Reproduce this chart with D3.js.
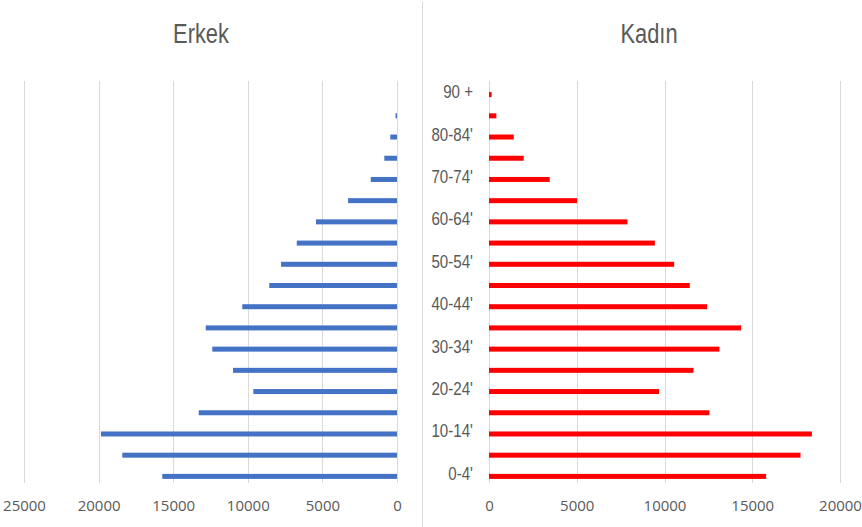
<!DOCTYPE html>
<html>
<head>
<meta charset="utf-8">
<script src="https://cdn.jsdelivr.net/npm/d3@7"></script>
<style>
  body { margin: 0; background: #fff; }
  text { fill: #595959; }
</style>
</head>
<body>
<div id="chart"></div>
<script>
// Age groups, youngest first
const ageGroups = ["0-4'", "5-9'", "10-14'", "15-19'", "20-24'", "25-29'", "30-34'", "35-39'",
    "40-44'", "45-49'", "50-54'", "55-59'", "60-64'", "65-69'", "70-74'", "75-79'",
    "80-84'", "85-89'", "90 +"];

// Population by sex
const erkek = [15730, 18410, 19840, 13290, 9630, 10990, 12380, 12820, 10370, 8560,
    7770, 6720, 5430, 3280, 1760, 850, 450, 100, 0];
const kadin = [15790, 17750, 18400, 12560, 9690, 11650, 13130, 14370, 12430, 11440,
    10550, 9450, 7890, 5020, 3460, 1980, 1410, 420, 150];

const erkekTicks = [25000, 20000, 15000, 10000, 5000, 0];
const kadinTicks = [0, 5000, 10000, 15000, 20000];

const width = 862;
const height = 527;
const labelFont = "'Liberation Sans', Arial, sans-serif";
const gridColor = "#d9d9d9";

const svg = d3.select("#chart")
    .append("svg")
    .attr("width", width)
    .attr("height", height);

// shared vertical layout
const gridTop = 81, gridBottom = 483;
const y = d3.scaleBand()
    .domain(ageGroups)
    .range([487, 84]);
const barH = 5;

// left panel (Erkek)
const xLeft = d3.scaleLinear().domain([0, 25000]).range([397, 24]);
// right panel (Kadin)
const xRight = d3.scaleLinear().domain([0, 20000]).range([489, 840]);

// divider between the two charts
svg.append("line")
    .attr("x1", 422.5).attr("x2", 422.5)
    .attr("y1", 2).attr("y2", height)
    .attr("stroke", gridColor);

function gridlines(scale, ticks) {
    svg.append("g")
        .selectAll("line")
        .data(ticks)
        .enter()
        .append("line")
        .attr("x1", d => Math.round(scale(d)) + 0.5)
        .attr("x2", d => Math.round(scale(d)) + 0.5)
        .attr("y1", gridTop)
        .attr("y2", gridBottom)
        .attr("stroke", gridColor);
}
gridlines(xLeft, erkekTicks);
gridlines(xRight, kadinTicks);

// tick labels
function tickAxis(scale, ticks) {
    const g = svg.append("g")
        .attr("transform", "translate(0,497)")
        .call(d3.axisBottom(scale).tickValues(ticks).tickFormat(d3.format("d")).tickSize(0));
    g.select(".domain").remove();
    g.selectAll("text")
        .attr("fill", "#595959")
        .style("font-family", "'Open Sans', sans-serif")
        .style("font-size", "15px");
}
tickAxis(xLeft, erkekTicks);
tickAxis(xRight, kadinTicks);

// bars
svg.append("g")
    .selectAll("rect")
    .data(erkek)
    .enter()
    .append("rect")
    .attr("x", d => xLeft(d))
    .attr("y", (d, i) => y(ageGroups[i]) + y.bandwidth() / 2 - barH / 2)
    .attr("width", d => xLeft(0) - xLeft(d))
    .attr("height", barH)
    .attr("fill", "#4472c4");

svg.append("g")
    .selectAll("rect")
    .data(kadin)
    .enter()
    .append("rect")
    .attr("x", xRight(0))
    .attr("y", (d, i) => y(ageGroups[i]) + y.bandwidth() / 2 - barH / 2)
    .attr("width", d => xRight(d) - xRight(0))
    .attr("height", barH)
    .attr("fill", "#ff0000");

// category labels, every other group (squeezed to look condensed)
svg.append("g")
    .selectAll("text")
    .data(ageGroups.filter((d, i) => i % 2 === 0))
    .enter()
    .append("text")
    .attr("transform", d => `translate(473,${y(d) + y.bandwidth() / 2 + 3.5}) scale(0.84,1)`)
    .attr("text-anchor", "end")
    .style("font-family", labelFont)
    .style("font-size", "18px")
    .text(d => d);

// titles
[["Erkek", 201], ["Kadın", 649]].forEach(([t, cx]) => {
    svg.append("text")
        .attr("transform", `translate(${cx},43) scale(0.78,1)`)
        .attr("text-anchor", "middle")
        .style("font-family", labelFont)
        .style("font-size", "28px")
        .text(t);
});
</script>
</body>
</html>
